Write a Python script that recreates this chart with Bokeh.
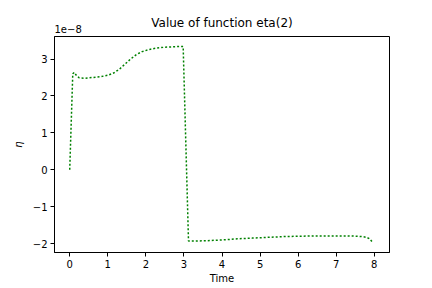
from bokeh.plotting import figure
from bokeh.models import Range1d, FixedTicker, Title
from bokeh.embed import file_html
from bokeh.resources import INLINE

# data (eta values in units of 1e-8)
time = [0, 0.08, 0.12, 0.18, 0.25, 0.4, 0.6, 0.8, 1.0, 1.15, 1.3, 1.45, 1.6, 1.75, 1.9,
        2.1, 2.3, 2.5, 2.7, 2.9, 2.98, 3.12, 3.3, 3.6, 4.0, 4.4, 4.8, 5.2, 5.6, 6.0,
        6.5, 7.0, 7.3, 7.55, 7.7, 7.8, 7.88, 7.95]
eta = [0, 2.6, 2.64, 2.55, 2.49, 2.48, 2.5, 2.52, 2.56, 2.62, 2.72, 2.86, 3.0, 3.12, 3.2,
       3.26, 3.3, 3.32, 3.33, 3.34, 3.34, -1.93, -1.93, -1.92, -1.9, -1.87, -1.85, -1.83, -1.81, -1.8,
       -1.79, -1.79, -1.79, -1.8, -1.81, -1.83, -1.87, -1.96]
x_ticks = [0, 1, 2, 3, 4, 5, 6, 7, 8]
y_ticks = [-2, -1, 0, 1, 2, 3]
title_text = "Value of function eta(2)"
x_label = "Time"
y_label = "η"
offset_text = "1e−8"

FONT = "DejaVu Sans"
X0, X1, Y0, Y1 = -0.4, 8.4, -2.24, 3.61

p = figure(width=432, height=288, output_backend="svg", toolbar_location=None,
           x_range=Range1d(X0, X1), y_range=Range1d(Y0, Y1), title_location=None,
           min_border_left=54, min_border_right=43, min_border_top=36, min_border_bottom=36)

offset_title = Title(text=offset_text, align="left", text_font=FONT, text_font_size="10px",
                     text_font_style="normal", text_color="black", offset=0, standoff=7)
main_title = Title(text=title_text, align="center", text_font=FONT, text_font_size="12px",
                   text_font_style="normal", text_color="black", offset=0, standoff=-21)
p.add_layout(offset_title, "above")
p.add_layout(main_title, "above")

p.grid.visible = False
p.outline_line_color = "black"
p.outline_line_width = 1
p.background_fill_color = "white"
p.border_fill_color = "white"

for ax in (p.xaxis[0], p.yaxis[0]):
    ax.axis_line_color = "black"
    ax.major_tick_line_color = "black"
    ax.major_tick_in = 0
    ax.major_tick_out = 4
    ax.minor_tick_out = 0
    ax.minor_tick_in = 0
    ax.major_label_text_font = FONT
    ax.major_label_text_font_size = "10px"
    ax.major_label_text_color = "black"
    ax.axis_label_text_font = FONT
    ax.axis_label_text_font_size = "10px"
    ax.axis_label_text_font_style = "normal"
    ax.axis_label_text_color = "black"

p.xaxis.ticker = FixedTicker(ticks=x_ticks)
p.yaxis.ticker = FixedTicker(ticks=y_ticks)
p.xaxis.axis_label = x_label
p.xaxis.axis_label_standoff = 2
p.yaxis.axis_label = y_label
p.yaxis.axis_label_text_font_style = "italic"
p.yaxis.axis_label_standoff = 6
p.xaxis.major_label_standoff = 3
p.yaxis.major_label_standoff = 3

p.line(time, eta, line_color="#008000", line_width=1.5, line_dash="2 2")

open("out.html", "w").write(file_html(p, INLINE))
